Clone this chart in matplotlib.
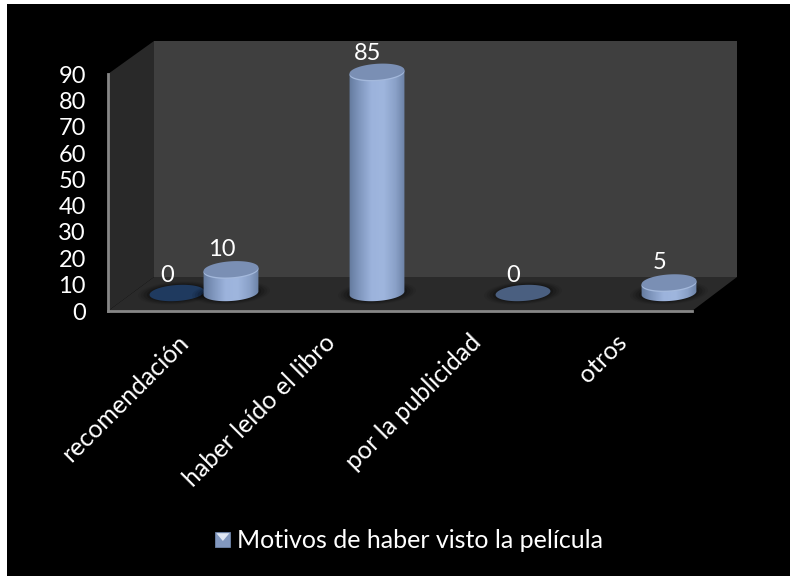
import numpy as np
import matplotlib
matplotlib.use("Agg")
import matplotlib.pyplot as plt
from matplotlib.patches import Polygon, Rectangle, Patch
from matplotlib.transforms import Affine2D
from matplotlib.legend_handler import HandlerBase

categories = ["recomendación", "haber leído el libro", "por la publicidad", "otros"]
series_a = [0]
series_b = [10, 85, 0, 5]
series_name = "Motivos de haber visto la película"
y_ticks = list(range(0, 100, 10))

W, H = 790, 576
AX_L, AX_R, AX_T, AX_B = 108, 692, 74, 311   # front frame, pixels from top-left
DX, DY = 46, 34                               # depth of 3D box, pixels
MID_X, MID_Y = 23, 18                         # bar depth offset, pixels
SHIFT = 27 / 146
BAR_W = 55 / 146
ELL_H = 16                                    # ellipse height, pixels
TOP_INSET = 1.15                              # cylinder tops sit slightly below value

plt.rcParams["font.family"] = ["Lato", "DejaVu Sans"]
fig = plt.figure(figsize=(W / 100, H / 100), dpi=100, facecolor="black")

# white slivers along top and left
fig.add_artist(Rectangle((0, 0), 7 / W, 1, transform=fig.transFigure, color="white", lw=0))
fig.add_artist(Rectangle((0, 1 - 4 / H), 1, 4 / H, transform=fig.transFigure, color="white", lw=0))

ax = fig.add_axes([AX_L / W, 1 - AX_B / H, (AX_R - AX_L) / W, (AX_B - AX_T) / H])
ax.set_facecolor("none")
ax.set_xlim(-0.5, 3.5)
ax.set_ylim(0, 90)
for s in ("top", "right"):
    ax.spines[s].set_visible(False)
for s in ("left", "bottom"):
    ax.spines[s].set_color("#868686")
    ax.spines[s].set_linewidth(2)
    ax.spines[s].set_zorder(6)
ax.set_yticks(y_ticks)
ax.set_xticks(range(len(categories)))
ax.set_xticklabels(categories, rotation=45, ha="right", rotation_mode="anchor",
                   fontsize=18, color="white")
ax.tick_params(axis="y", length=0, pad=16, labelsize=17, labelcolor="white")
ax.tick_params(axis="x", length=0, pad=14)
for lab in ax.get_xticklabels():
    lab.set_transform(lab.get_transform() + Affine2D().translate(-4, 0))


def frac(px, py):
    return ((px - AX_L) / (AX_R - AX_L), (AX_B - py) / (AX_B - AX_T))


# box: side wall, back wall, floor
for pts, col in (
    ([(AX_L, AX_T), (AX_L + DX, AX_T - 33), (AX_L + DX, AX_B - DY), (AX_L, AX_B)], "#292929"),
    ([(AX_L + DX, AX_T - 33), (737, AX_T - 33), (737, AX_B - DY), (AX_L + DX, AX_B - DY)], "#3f3f3f"),
    ([(AX_L, AX_B), (AX_L + DX, AX_B - DY), (737, AX_B - DY), (AX_R, AX_B)], "#2a2a2a"),
):
    ax.add_patch(Polygon([frac(*p) for p in pts], closed=True, transform=ax.transAxes,
                         fc=col, ec="none", clip_on=False, zorder=0))

depth = Affine2D().translate(MID_X, MID_Y)
tr = ax.transData + depth
px_per_x = (AX_R - AX_L) / 4
px_per_y = (AX_B - AX_T) / 90
cmap = matplotlib.colors.LinearSegmentedColormap.from_list(
    "cyl", ["#5f7598", "#7f96bd", "#9cb3dc", "#9fb6de", "#8aa1c8", "#62789b"])


def ellipse_pts(cx, cy, scale=1.0):
    """Tilted ellipse outline in data units around (cx, cy)."""
    t = np.linspace(0, 2 * np.pi, 90)
    a, b = BAR_W / 2 * px_per_x * scale, ELL_H / 2 * scale
    tilt = np.deg2rad(4)
    x = a * np.cos(t)
    y = b * np.sin(t)
    xr = x * np.cos(tilt) - y * np.sin(tilt)
    yr = x * np.sin(tilt) + y * np.cos(tilt)
    return np.c_[cx + xr / px_per_x, cy + yr / px_per_y]


def shadow(cx, z):
    for sc, al in ((1.42, 0.07), (1.32, 0.10), (1.22, 0.14), (1.1, 0.2)):
        ax.add_patch(Polygon(ellipse_pts(cx, 0, sc), closed=True, transform=tr,
                             fc="black", ec="none", alpha=al, clip_on=False, zorder=z))


def cylinder(cx, v, z):
    shadow(cx, z)
    h = v - TOP_INSET
    base, top = ellipse_pts(cx, 0), ellipse_pts(cx, h)
    half = BAR_W / 2
    mid = np.interp(base[:, 0], [cx - half, cx + half], [-1, 1]) * np.sin(np.deg2rad(4)) * half * px_per_x / px_per_y
    lower = base[base[:, 1] <= mid]
    lower = lower[np.argsort(lower[:, 0])]
    outline = np.vstack([lower, top[np.argsort(-top[:, 0])]])
    body = Polygon(outline, closed=True, transform=tr, fc="none", ec="none")
    ax.add_patch(body)
    grad = np.linspace(0, 1, 128).reshape(1, -1)
    im = ax.imshow(grad, cmap=cmap, aspect="auto", transform=tr,
                   extent=(cx - half - 0.02, cx + half + 0.02, -8, h + 8),
                   clip_on=True, zorder=z + 0.1)
    im.set_clip_box(fig.bbox)
    im.set_clip_path(body)
    ax.add_patch(Polygon(ellipse_pts(cx, h - 0.35), closed=True, transform=tr,
                         fc="#a4b9dc", ec="none", clip_on=False, zorder=z + 0.2))
    ax.add_patch(Polygon(ellipse_pts(cx, h + 0.15), closed=True, transform=tr,
                         fc="#7a8fb4", ec="none", clip_on=False, zorder=z + 0.3))


def flat(cx, col, z):
    shadow(cx, z)
    ax.add_patch(Polygon(ellipse_pts(cx, 0), closed=True, transform=tr,
                         fc=col, ec="none", clip_on=False, zorder=z + 0.1))


def value_label(cx, v):
    ax.annotate(str(v), xy=(cx, v), xycoords=tr, xytext=(0, 5 if v > 50 else 7),
                textcoords="offset pixels", ha="center", va="bottom", fontsize=17,
                color="white", zorder=9, annotation_clip=False)


x_a = [i - SHIFT for i in range(len(series_a))]
x_b = [i + SHIFT for i in range(len(series_b))]
flat_cols = {0: "#1f3a5f", 1: "#4a5f80"}

for x, v in zip(x_a, series_a):
    flat(x, flat_cols[0], 2)
    value_label(x - 0.065, v)
for i, (x, v) in enumerate(zip(x_b, series_b)):
    if v == 0:
        flat(x, flat_cols[1], 3 + i)
    else:
        cylinder(x, v, 3 + i)
    value_label(x - 0.065, v)
ax.set_xlim(-0.5, 3.5)
ax.set_ylim(0, 90)


class Swatch(HandlerBase):
    def create_artists(self, legend, orig, xd, yd, w, h, fs, trans):
        s = 10.8
        y0 = (h - s) / 2 - yd
        x0 = w - s - xd
        r = Rectangle((x0, y0), s, s, fc="#8298bf", ec="#6f85a8", lw=0.6, transform=trans)
        t = Polygon([(x0 + 0.7, y0 + s - 0.7), (x0 + s - 0.7, y0 + s - 0.7), (x0 + s / 2, y0 + 4.5)],
                    closed=True, fc="#dfe6f2", ec="none", transform=trans)
        return [r, t]


leg = fig.legend(handles=[Patch(label=series_name)], handler_map={Patch: Swatch()},
                 loc="center", bbox_to_anchor=(409 / W, 1 - 541 / H), frameon=False,
                 fontsize=18, labelcolor="white", handlelength=0.6, handletextpad=0.25)

fig.savefig("out.png", dpi=100, facecolor="black")
